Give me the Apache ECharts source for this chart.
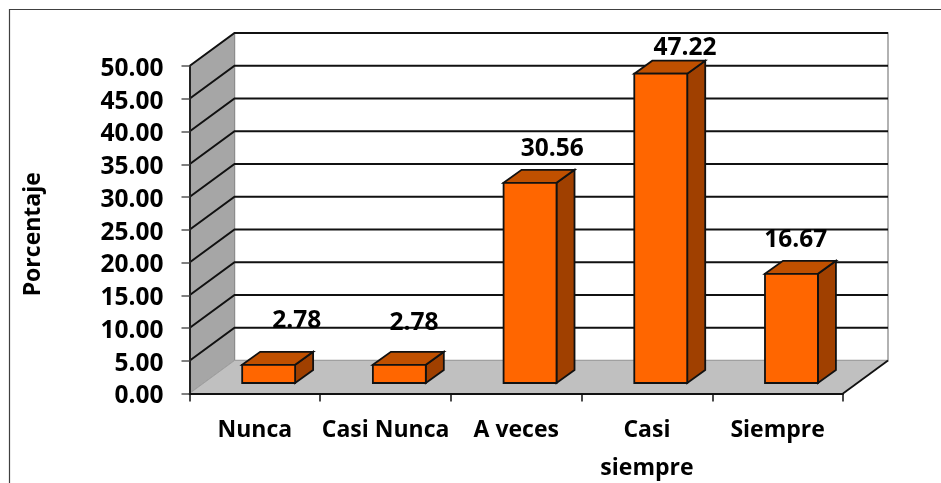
<!DOCTYPE html>
<html>
<head>
<meta charset="utf-8">
<style>
  html, body { margin: 0; padding: 0; background: #fff; }
  #chart { width: 941px; height: 483px; }
</style>
</head>
<body>
<div id="chart"></div>
<script src="https://cdn.jsdelivr.net/npm/echarts@6/dist/echarts.min.js"></script>
<script>
const categories = ['Nunca', 'Casi Nunca', 'A veces', 'Casi\nsiempre', 'Siempre'];
const values = [2.78, 2.78, 30.56, 47.22, 16.67];
const yTicks = [0, 5, 10, 15, 20, 25, 30, 35, 40, 45, 50];

const FONT = '"Open Sans", sans-serif';
// profundidad del falso 3D (px)
const WALL_DX = 45, WALL_DY = -33;
const BAR_OFF_X = 13.8, BAR_OFF_Y = -10.5, BAR_DX = 18, BAR_DY = -13;
const BAR_BAND = 0.405;
// las etiquetas del original estan movidas a mano
const labelNudge = [[42, -54.5], [28.5, -52.5], [36, -44.5], [38, -36], [18, -44]];

function poly(points, fill, stroke, width, z2) {
  return {
    type: 'polygon',
    z2: z2 || 0,
    shape: { points: points },
    style: { fill: fill, stroke: stroke || null, lineWidth: width || 0, lineJoin: 'miter' }
  };
}

function renderWalls(params) {
  const r = params.coordSys;
  const l = r.x, t = r.y, b = r.y + r.height, e = r.x + r.width;
  return {
    type: 'group',
    children: [
      // pared del fondo
      poly([[l + WALL_DX, t + WALL_DY], [e + WALL_DX, t + WALL_DY], [e + WALL_DX, b + WALL_DY], [l + WALL_DX, b + WALL_DY]], '#ffffff', '#999999', 1.5),
      // pared lateral
      poly([[l, t], [l + WALL_DX, t + WALL_DY], [l + WALL_DX, b + WALL_DY], [l, b]], '#a6a6a6', '#8c8c8c', 1),
      // piso
      poly([[l, b], [l + WALL_DX, b + WALL_DY], [e + WALL_DX, b + WALL_DY], [e, b]], '#c0c0c0', '#a0a0a0', 1),
      { type: 'line', shape: { x1: e, y1: b, x2: e + WALL_DX, y2: b + WALL_DY }, style: { stroke: '#111', lineWidth: 1.8 } }
    ]
  };
}

function renderGridLine(params, api) {
  const r = params.coordSys;
  const y = api.coord([0, api.value(1)])[1];
  return {
    type: 'polyline',
    shape: { points: [[r.x, y], [r.x + WALL_DX, y + WALL_DY], [r.x + r.width + WALL_DX, y + WALL_DY]] },
    style: { fill: null, stroke: '#111', lineWidth: 2 }
  };
}

function renderBar(params, api) {
  const i = api.value(0), v = api.value(1);
  const top = api.coord([i, v]);
  const base = api.coord([i, 0]);
  const w = api.size([1, 0])[0] * BAR_BAND;
  const x0 = top[0] + BAR_OFF_X - w / 2, x1 = x0 + w;
  const yt = top[1] + BAR_OFF_Y, yb = base[1] + BAR_OFF_Y;
  const n = labelNudge[params.dataIndex];
  return {
    type: 'group',
    children: [
      poly([[x1, yt], [x1 + BAR_DX, yt + BAR_DY], [x1 + BAR_DX, yb + BAR_DY], [x1, yb]], '#a04000', '#111', 1.8),
      poly([[x0, yt], [x0 + BAR_DX, yt + BAR_DY], [x1 + BAR_DX, yt + BAR_DY], [x1, yt]], '#c05000', '#111', 1.8),
      poly([[x0, yt], [x1, yt], [x1, yb], [x0, yb]], '#ff6600', '#111', 1.8),
      {
        type: 'text',
        z2: 10,
        style: {
          x: top[0] + n[0],
          y: top[1] + n[1],
          text: v.toFixed(2),
          fill: '#000',
          font: 'bold 24.5px ' + FONT,
          align: 'center',
          verticalAlign: 'middle'
        }
      }
    ]
  };
}

const chart = echarts.init(document.getElementById('chart'), null, { renderer: 'canvas' });
chart.setOption({
  animation: false,
  backgroundColor: '#ffffff',
  grid: { left: 189.5, top: 66, width: 653.5, height: 327.5, containLabel: false, outerBoundsMode: 'none' },
  graphic: [
    { type: 'polyline', silent: true, shape: { points: [[9.5, 483], [9.5, 9.5], [941, 9.5]] }, style: { fill: null, stroke: '#404040', lineWidth: 1.2 } }
  ],
  xAxis: {
    type: 'category',
    data: categories,
    z: 5,
    axisLine: { show: true, lineStyle: { color: '#111', width: 2 } },
    axisTick: { show: true, length: 8, lineStyle: { color: '#111', width: 1.5 } },
    axisLabel: { interval: 0, margin: 17.5, color: '#000', fontFamily: FONT, fontWeight: 'bold', fontSize: 23, lineHeight: 38 }
  },
  yAxis: {
    type: 'value',
    min: 0,
    max: 50,
    interval: 5,
    z: 5,
    name: 'Porcentaje',
    nameLocation: 'middle',
    nameRotate: 90,
    nameGap: 145,
    nameTextStyle: { color: '#000', fontFamily: FONT, fontWeight: 'bold', fontSize: 23, padding: [0, 9, 0, 0] },
    splitLine: { show: false },
    axisLine: { show: true, lineStyle: { color: '#222', width: 2 } },
    axisTick: { show: true, length: 8, lineStyle: { color: '#555', width: 1.5 } },
    // lineHeight pequeno + top: baja el texto unos px respecto a la marca
    axisLabel: { margin: 26, color: '#000', fontFamily: FONT, fontWeight: 'bold', fontSize: 24.5, verticalAlign: 'top', lineHeight: 6, formatter: function (v) { return v.toFixed(2); } }
  },
  series: [
    { type: 'custom', name: 'paredes', silent: true, z: 1, clip: false, renderItem: renderWalls, data: [[0, 0]] },
    { type: 'custom', name: 'rejilla', silent: true, z: 2, clip: false, renderItem: renderGridLine, data: yTicks.slice(1).map(function (t) { return [0, t]; }) },
    { type: 'custom', name: 'Porcentaje', silent: true, z: 3, clip: false, renderItem: renderBar, data: values.map(function (v, i) { return [i, v]; }) }
  ]
});
</script>
</body>
</html>
